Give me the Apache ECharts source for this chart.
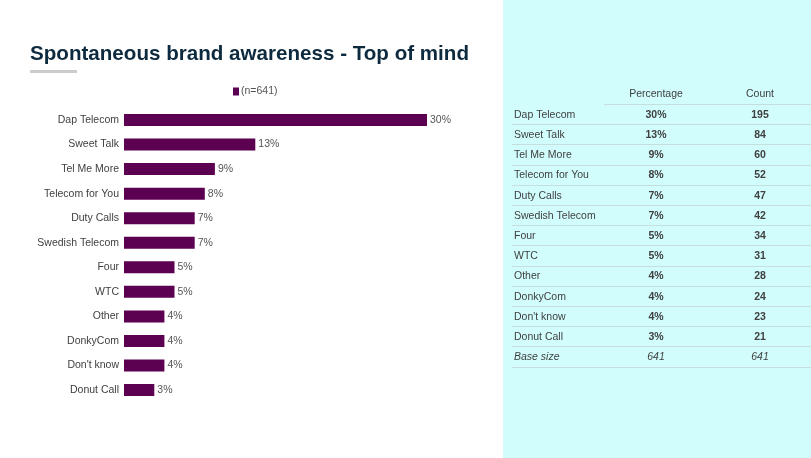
<!DOCTYPE html>
<html>
<head>
<meta charset="utf-8">
<script src="https://cdn.jsdelivr.net/npm/echarts@6/dist/echarts.min.js"></script>
<style>
html,body{margin:0;padding:0;background:#fff;}
#chart{width:811px;height:458px;}
</style>
</head>
<body>
<div id="chart"></div>
<script>
// 数据
var brands = ['Dap Telecom','Sweet Talk','Tel Me More','Telecom for You','Duty Calls','Swedish Telecom','Four','WTC','Other','DonkyCom',"Don't know",'Donut Call'];
var percents = [30,13,9,8,7,7,5,5,4,4,4,3];
var counts = [195,84,60,52,47,42,34,31,28,24,23,21];
var baseSize = 641;
var seriesName = '(n=641)';

var font = '"Liberation Sans", Arial, sans-serif';
var barColor = '#5c0052';
var textColor = '#404040';
var fs = 10.5;

var myChart = echarts.init(document.getElementById('chart'));

// 右侧表格
var tableX = 512, tableRight = 811, rowTop = 104, rowH = 20.2;
var colPct = 656, colCnt = 760;
var graphics = [
	{type:'rect', shape:{x:503,y:0,width:308,height:458}, style:{fill:'#d2fdfd'}, z:-10},
	{type:'text', left:30, top:43.5, style:{text:'Spontaneous brand awareness - Top of mind', font:'bold 20.6px ' + font, fill:'#0e2a3e'}},
	{type:'rect', shape:{x:30,y:70,width:47,height:3}, style:{fill:'#cccccc'}},
	{type:'text', x:colPct, y:94.5, style:{text:'Percentage', font:fs + 'px ' + font, fill:textColor, align:'center', verticalAlign:'middle'}},
	{type:'text', x:colCnt, y:94.5, style:{text:'Count', font:fs + 'px ' + font, fill:textColor, align:'center', verticalAlign:'middle'}},
	{type:'line', shape:{x1:604,y1:rowTop + 0.5,x2:tableRight,y2:rowTop + 0.5}, style:{stroke:'#c6dede', lineWidth:1}}
];
var rows = [];
for (var i = 0; i < brands.length; i++) {
	rows.push({label:brands[i], pct:percents[i] + '%', cnt:String(counts[i]), italic:false});
}
rows.push({label:'Base size', pct:String(baseSize), cnt:String(baseSize), italic:true});
for (var r = 0; r < rows.length; r++) {
	var cy = rowTop + rowH * r + rowH / 2 + 0.8;
	var valFont = rows[r].italic ? 'italic ' + fs + 'px ' + font : 'bold ' + fs + 'px ' + font;
	graphics.push({type:'text', x:tableX + 2, y:cy, style:{text:rows[r].label, font:(rows[r].italic ? 'italic ' : '') + fs + 'px ' + font, fill:textColor, verticalAlign:'middle'}});
	graphics.push({type:'text', x:colPct, y:cy, style:{text:rows[r].pct, font:valFont, fill:textColor, align:'center', verticalAlign:'middle'}});
	graphics.push({type:'text', x:colCnt, y:cy, style:{text:rows[r].cnt, font:valFont, fill:textColor, align:'center', verticalAlign:'middle'}});
	var ly = Math.round(rowTop + rowH * (r + 1)) + 0.5;
	graphics.push({type:'line', shape:{x1:tableX,y1:ly,x2:tableRight,y2:ly}, style:{stroke:'#c6dede', lineWidth:1}});
}

var option = {
	animation:false,
	textStyle:{fontFamily:font},
	legend:{
		data:[seriesName],
		left:228,
		top:81,
		itemWidth:6,
		itemHeight:8,
		itemGap:4,
		icon:'rect',
		textStyle:{fontSize:fs, color:'#555', fontFamily:font, padding:[0,0,0,-3]}
	},
	grid:{left:124, top:107.7, width:303, height:294.6, containLabel:false},
	xAxis:{
		type:'value', min:0, max:30, show:false
	},
	yAxis:{
		type:'category',
		data:brands,
		inverse:true,
		axisLine:{show:false},
		axisTick:{show:false},
		splitLine:{show:false},
		axisLabel:{fontSize:fs, color:textColor, margin:5, fontFamily:font}
	},
	series:[{
		name:seriesName,
		type:'bar',
		data:percents,
		barWidth:12,
		itemStyle:{color:barColor},
		label:{show:true, position:'right', distance:3, formatter:'{c}%', fontSize:fs, color:'#555', fontFamily:font}
	}],
	graphic:graphics
};

myChart.setOption(option);
</script>
</body>
</html>
